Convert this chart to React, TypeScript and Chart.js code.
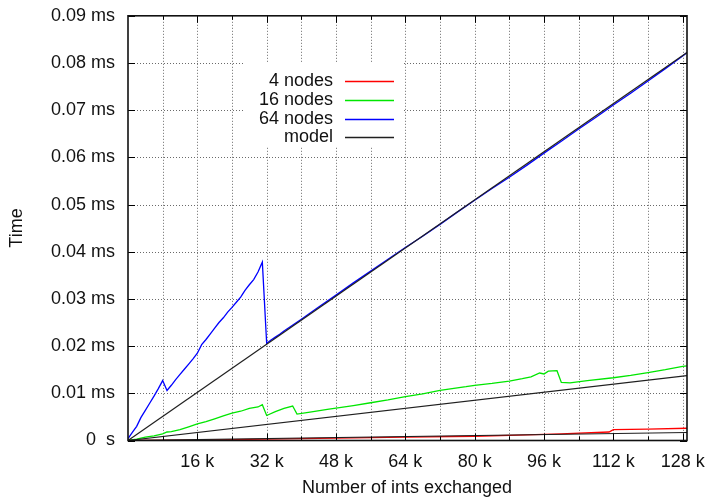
import React, { useEffect, useRef } from 'react';
import { Chart, registerables } from 'chart.js';

Chart.register(...registerables);

// x values are in k ints exchanged, y values in ms
const X_MAX = 129;
const gridX = [8, 16, 24, 32, 40, 48, 56, 64, 72, 80, 88, 96, 104, 112, 120, 128];
const xTickValues = [16, 32, 48, 64, 80, 96, 112, 128];
const yTickValues = [0, 0.01, 0.02, 0.03, 0.04, 0.05, 0.06, 0.07, 0.08, 0.09];

const nodes4X = [0, 16, 32, 48, 64, 80, 88, 100, 111, 112, 120, 129];
const nodes4Y = [0, 0.0001, 0.0003, 0.0005, 0.0007, 0.0009, 0.0011, 0.0014, 0.0018, 0.0023, 0.0024, 0.0026];

const nodes16X = [0, 2, 4, 6, 8, 9, 10, 12, 14, 16, 18, 20, 22, 24, 26, 28, 30, 31, 32, 34, 36, 38, 39, 42, 46, 52, 56, 60, 64, 68, 72, 74, 78, 80, 84, 88, 91, 93, 95, 96, 97, 99, 100, 102, 106, 112, 116, 120, 124, 128, 129];
const nodes16Y = [0, 0.0003, 0.0007, 0.001, 0.0014, 0.0018, 0.0019, 0.0023, 0.0029, 0.0035, 0.004, 0.0046, 0.0052, 0.0058, 0.0062, 0.0068, 0.0071, 0.0076, 0.0053, 0.0061, 0.0068, 0.0073, 0.0056, 0.006, 0.0066, 0.0074, 0.008, 0.0086, 0.0093, 0.0099, 0.0106, 0.0109, 0.0114, 0.0117, 0.0121, 0.0126, 0.0131, 0.0135, 0.0143, 0.0141, 0.0147, 0.0148, 0.0123, 0.0122, 0.0127, 0.0133, 0.0138, 0.0144, 0.015, 0.0157, 0.0158];

const nodes64X = [0, 1, 2, 3, 4, 5, 6, 7, 8, 9, 10, 11, 12, 13, 14, 15, 16, 17, 18, 19, 20, 21, 22, 23, 24, 25, 26, 27, 28, 29, 30, 31, 32, 33, 34, 35, 36, 40, 44, 48, 52, 56, 60, 64, 68, 72, 76, 80, 84, 88, 92, 96, 100, 104, 108, 112, 116, 120, 124, 128, 129];
const nodes64Y = [0.0004, 0.0017, 0.003, 0.0049, 0.0064, 0.0079, 0.0094, 0.011, 0.0127, 0.0106, 0.0117, 0.0129, 0.014, 0.0151, 0.0162, 0.0173, 0.0185, 0.0203, 0.0214, 0.0226, 0.0238, 0.025, 0.026, 0.0272, 0.0282, 0.0293, 0.0304, 0.0318, 0.033, 0.0341, 0.0357, 0.0378, 0.0206, 0.0213, 0.0219, 0.0225, 0.0232, 0.0257, 0.0283, 0.0308, 0.0334, 0.0359, 0.0384, 0.0409, 0.0433, 0.0458, 0.0484, 0.0509, 0.0534, 0.0558, 0.0583, 0.0609, 0.0634, 0.066, 0.0685, 0.0711, 0.0736, 0.0762, 0.0788, 0.0815, 0.0822];

const modelX = [0, 129];
const model4Y = [0, 0.0017];
const model16Y = [0, 0.01373];
const model64Y = [0, 0.0822];

const legendLabels = ['4 nodes', '16 nodes', '64 nodes', 'model'];
const legendColors = ['#ff0000', '#00e600', '#0000ff', '#202020'];

const FONT = '"Liberation Sans", Arial, Helvetica, sans-serif';
const TEXT = '#111111';

const pts = (xs: number[], ys: number[]) => xs.map((x, i) => ({ x, y: ys[i] }));

const framePlugin = {
  id: 'gnuplotFrame',
  beforeDatasetsDraw(chart: any) {
    const { ctx, chartArea: a, scales } = chart;
    const xs = scales.x;
    const ys = scales.y;
    ctx.save();
    ctx.strokeStyle = '#6a6a6a';
    ctx.lineWidth = 1;
    ctx.setLineDash([1, 2]);
    gridX.forEach((v) => {
      const px = Math.round(xs.getPixelForValue(v)) + 0.5;
      ctx.beginPath();
      ctx.moveTo(px, a.top);
      ctx.lineTo(px, a.bottom);
      ctx.stroke();
    });
    yTickValues.forEach((v) => {
      if (v <= 0 || v >= 0.09) return;
      const py = Math.round(ys.getPixelForValue(v)) + 0.5;
      ctx.beginPath();
      ctx.moveTo(a.left, py);
      ctx.lineTo(a.right, py);
      ctx.stroke();
    });
    ctx.setLineDash([]);
    // legend box
    const bx = 245, by = 63, bw = 158, bh = 84;
    ctx.fillStyle = '#ffffff';
    ctx.fillRect(bx, by, bw, bh);
    ctx.font = `18px ${FONT}`;
    ctx.textAlign = 'right';
    ctx.textBaseline = 'middle';
    legendLabels.forEach((lab, i) => {
      const cy = 81 + i * 18.8;
      ctx.fillStyle = TEXT;
      ctx.fillText(lab, 333, cy);
      ctx.strokeStyle = legendColors[i];
      ctx.lineWidth = 1.5;
      ctx.beginPath();
      ctx.moveTo(345, Math.round(cy) + 0.5);
      ctx.lineTo(394, Math.round(cy) + 0.5);
      ctx.stroke();
    });
    ctx.restore();
  },
  afterDatasetsDraw(chart: any) {
    const { ctx, chartArea: a, scales } = chart;
    const xs = scales.x;
    const ys = scales.y;
    ctx.save();
    ctx.strokeStyle = '#000000';
    ctx.lineWidth = 1;
    gridX.forEach((v) => {
      const px = Math.round(xs.getPixelForValue(v)) + 0.5;
      const len = v % 16 === 0 ? 7 : 4;
      ctx.beginPath();
      ctx.moveTo(px, a.bottom);
      ctx.lineTo(px, a.bottom - len);
      ctx.moveTo(px, a.top);
      ctx.lineTo(px, a.top + len);
      ctx.stroke();
    });
    yTickValues.forEach((v) => {
      const py = Math.round(ys.getPixelForValue(v)) + 0.5;
      ctx.beginPath();
      ctx.moveTo(a.left, py);
      ctx.lineTo(a.left + 7, py);
      ctx.moveTo(a.right, py);
      ctx.lineTo(a.right - 7, py);
      ctx.stroke();
    });
    ctx.lineWidth = 1.6;
    ctx.strokeStyle = '#111111';
    ctx.strokeRect(a.left, a.top, a.right - a.left, a.bottom - a.top);
    // axis titles
    ctx.fillStyle = TEXT;
    ctx.font = `18px ${FONT}`;
    ctx.textAlign = 'center';
    ctx.textBaseline = 'middle';
    ctx.fillText('Number of ints exchanged', 407, 488);
    ctx.translate(17, 228);
    ctx.rotate(-Math.PI / 2);
    ctx.fillText('Time', 0, 0);
    ctx.restore();
  },
};

export default function App() {
  const ref = useRef<HTMLCanvasElement | null>(null);
  useEffect(() => {
    if (!ref.current) return;
    const line = (label: string, xs: number[], ys: number[], color: string, order: number, width = 1.3) => ({
      label,
      data: pts(xs, ys),
      borderColor: color,
      backgroundColor: color,
      borderWidth: width,
      pointRadius: 0,
      showLine: true,
      fill: false,
      tension: 0,
      order,
    });
    const chart = new Chart(ref.current, {
      type: 'scatter',
      data: {
        datasets: [
          line('4 nodes', nodes4X, nodes4Y, legendColors[0], 4),
          line('16 nodes', nodes16X, nodes16Y, legendColors[1], 3),
          line('64 nodes', nodes64X, nodes64Y, legendColors[2], 2),
          line('model', modelX, model64Y, legendColors[3], 0, 1.2),
          line('model 16', modelX, model16Y, legendColors[3], 0, 1.2),
          line('model 4', modelX, model4Y, legendColors[3], 0, 1.2),
        ],
      },
      options: {
        responsive: false,
        animation: false,
        events: [],
        layout: { padding: { top: 15, right: 22, bottom: 0, left: 0 } },
        plugins: { legend: { display: false }, tooltip: { enabled: false } },
        scales: {
          x: {
            type: 'linear',
            min: 0,
            max: X_MAX,
            grid: { display: false },
            border: { display: false },
            afterBuildTicks: (s: any) => {
              s.ticks = xTickValues.map((v) => ({ value: v }));
            },
            afterFit: (s: any) => {
              s.height = 58.5;
            },
            ticks: {
              autoSkip: false,
              maxRotation: 0,
              padding: 3,
              color: TEXT,
              font: { family: FONT, size: 18 },
              callback: (v: any) => `${v} k`,
            },
          },
          y: {
            type: 'linear',
            min: 0,
            max: 0.09,
            grid: { display: false },
            border: { display: false },
            afterBuildTicks: (s: any) => {
              s.ticks = yTickValues.map((v) => ({ value: v }));
            },
            afterFit: (s: any) => {
              s.width = 128;
            },
            ticks: {
              autoSkip: false,
              padding: 5,
              color: TEXT,
              font: { family: FONT, size: 18 },
              callback: (v: any) => (Number(v) === 0 ? '0  s' : `${Number(v).toFixed(2)} ms`),
            },
          },
        },
      },
      plugins: [framePlugin],
    } as any);
    return () => chart.destroy();
  }, []);
  return (
    <div style={{ position: 'fixed', left: 0, top: 0, width: 709, height: 499, background: '#fff' }}>
      <canvas ref={ref} width={709} height={499} style={{ display: 'block' }} />
    </div>
  );
}
